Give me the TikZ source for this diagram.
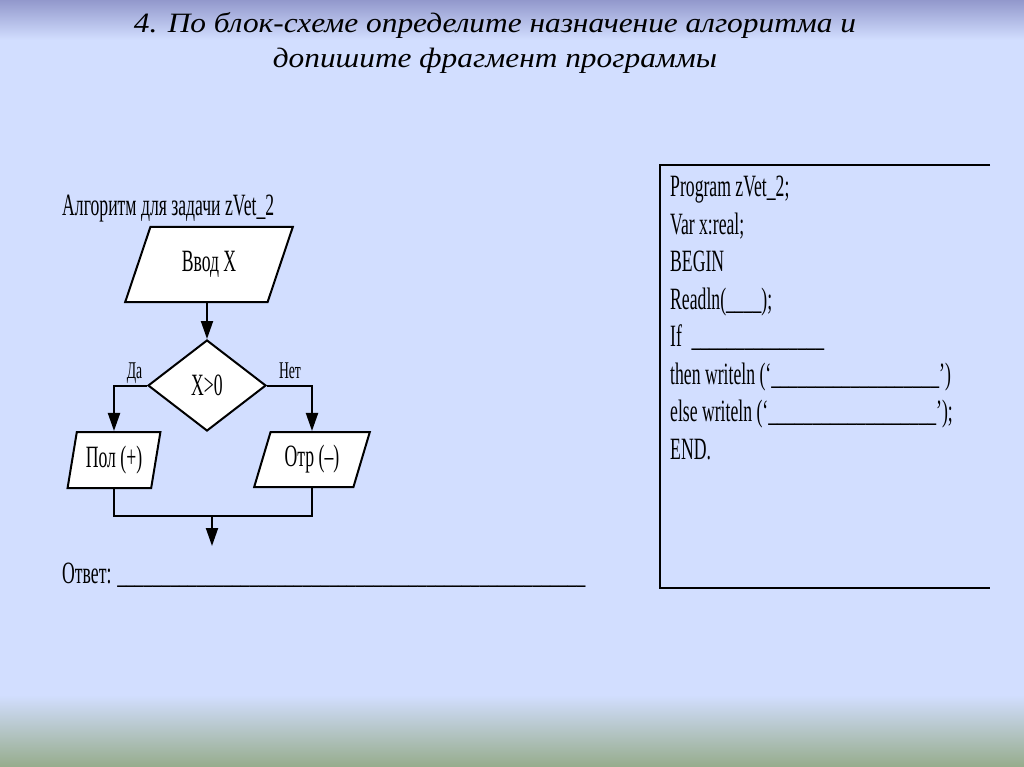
\documentclass[tikz,border=0pt]{standalone}
\usepackage{fontspec}
\setmainfont[FakeStretch=0.57]{Liberation Serif}
\newfontfamily\titlefont[FakeStretch=1.12]{Liberation Serif Italic}
\usetikzlibrary{shapes.geometric,arrows.meta}
\definecolor{bgmain}{RGB}{210,222,255}
\definecolor{bgtop}{RGB}{146,152,204}
\definecolor{bgbot}{RGB}{150,172,140}
\ExplSyntaxOn
\cs_new:Npn \myblank #1 {\prg_replicate:nn{#1}{\_}}
\ExplSyntaxOff
\tikzset{
  txt/.style={font=\fontsize{31}{37}\selectfont, inner sep=0pt, anchor=base west},
  ttl/.style={font=\titlefont\fontsize{28}{33}\selectfont, inner sep=0pt, anchor=base},
  lbl/.style={font=\fontsize{24}{28}\selectfont, inner sep=0pt, anchor=base},
  shp/.style={draw=black, fill=white, line width=2pt, inner sep=0pt, font=\fontsize{31}{37}\selectfont},
  iobox/.style={shp, trapezium, trapezium stretches=true},
  decbox/.style={shp, diamond},
  conn/.style={line width=2pt, draw=black},
  arr/.style={conn, -{Triangle[length=18pt,width=12pt]}},
}
\begin{document}
\begin{tikzpicture}[x=1pt,y=-1pt]
\useasboundingbox (0,0) rectangle (1024,767);
% background
\fill[bgmain] (0,0) rectangle (1024,767);
\shade[top color=bgtop, bottom color=bgmain] (0,0) rectangle (1024,40);
\shade[top color=bgmain, bottom color=bgbot] (0,695) rectangle (1024,767);
% title
\node[ttl] (t1) at (495,33) {4. По блок-схеме определите назначение алгоритма и};
\node[ttl] (t2) at (495,68) {допишите фрагмент программы};
% flowchart
\node[txt] (fct) at (62,216) {Алгоритм для задачи zVet\_2};
\node[iobox, trapezium left angle=66, trapezium right angle=114, minimum width=168pt, minimum height=75pt] (inp) at (209,264.5) {Ввод X};
\node[decbox, minimum width=118pt, minimum height=91pt] (dec) at (207,385.5) {X>0};
\node[iobox, trapezium left angle=76, trapezium right angle=104, minimum width=93pt, minimum height=56pt] (pol) at (114,460) {Пол (+)};
\node[iobox, trapezium left angle=69, trapezium right angle=111, minimum width=116pt, minimum height=55pt] (otr) at (312,459.5) {Отр (–)};
\node[lbl] (da) at (134.5,378) {Да};
\node[lbl] (net) at (290,378) {Нет};
\draw[arr] (dec.north |- inp.south) -- (dec.north);
\draw[arr] (dec.west) -| (pol.north);
\draw[arr] (dec.east) -| (otr.north);
\coordinate (jn) at (212,516);
\coordinate (out) at (212,546);
\draw[conn] (pol.south) |- (jn) -| (otr.south);
\draw[arr] (jn) -- (out);
\node[txt] (ans) at (62,583) {Ответ: \myblank{14}\myblank{39}};
% program box
\coordinate (bx1) at (990,165);
\coordinate (bx2) at (660,165);
\coordinate (bx3) at (660,588);
\coordinate (bx4) at (990,588);
\draw[conn] (bx1) -- (bx2) -- (bx3) -- (bx4);
\node[txt] (p1) at (670,196.5) {Program zVet\_2;};
\node[txt] (p2) at (670,234) {Var x:real;};
\node[txt] (p3) at (670,271.5) {BEGIN};
\node[txt] (p4) at (670,309) {Readln(\myblank{4});};
\node[txt] (p5) at (670,346.5) {If \,\myblank{15}};
\node[txt] (p6) at (670,384) {then writeln (‘\myblank{19}’)};
\node[txt] (p7) at (670,421.5) {else writeln (‘\myblank{19}’);};
\node[txt] (p8) at (670,459) {END.};
\end{tikzpicture}
\end{document}
